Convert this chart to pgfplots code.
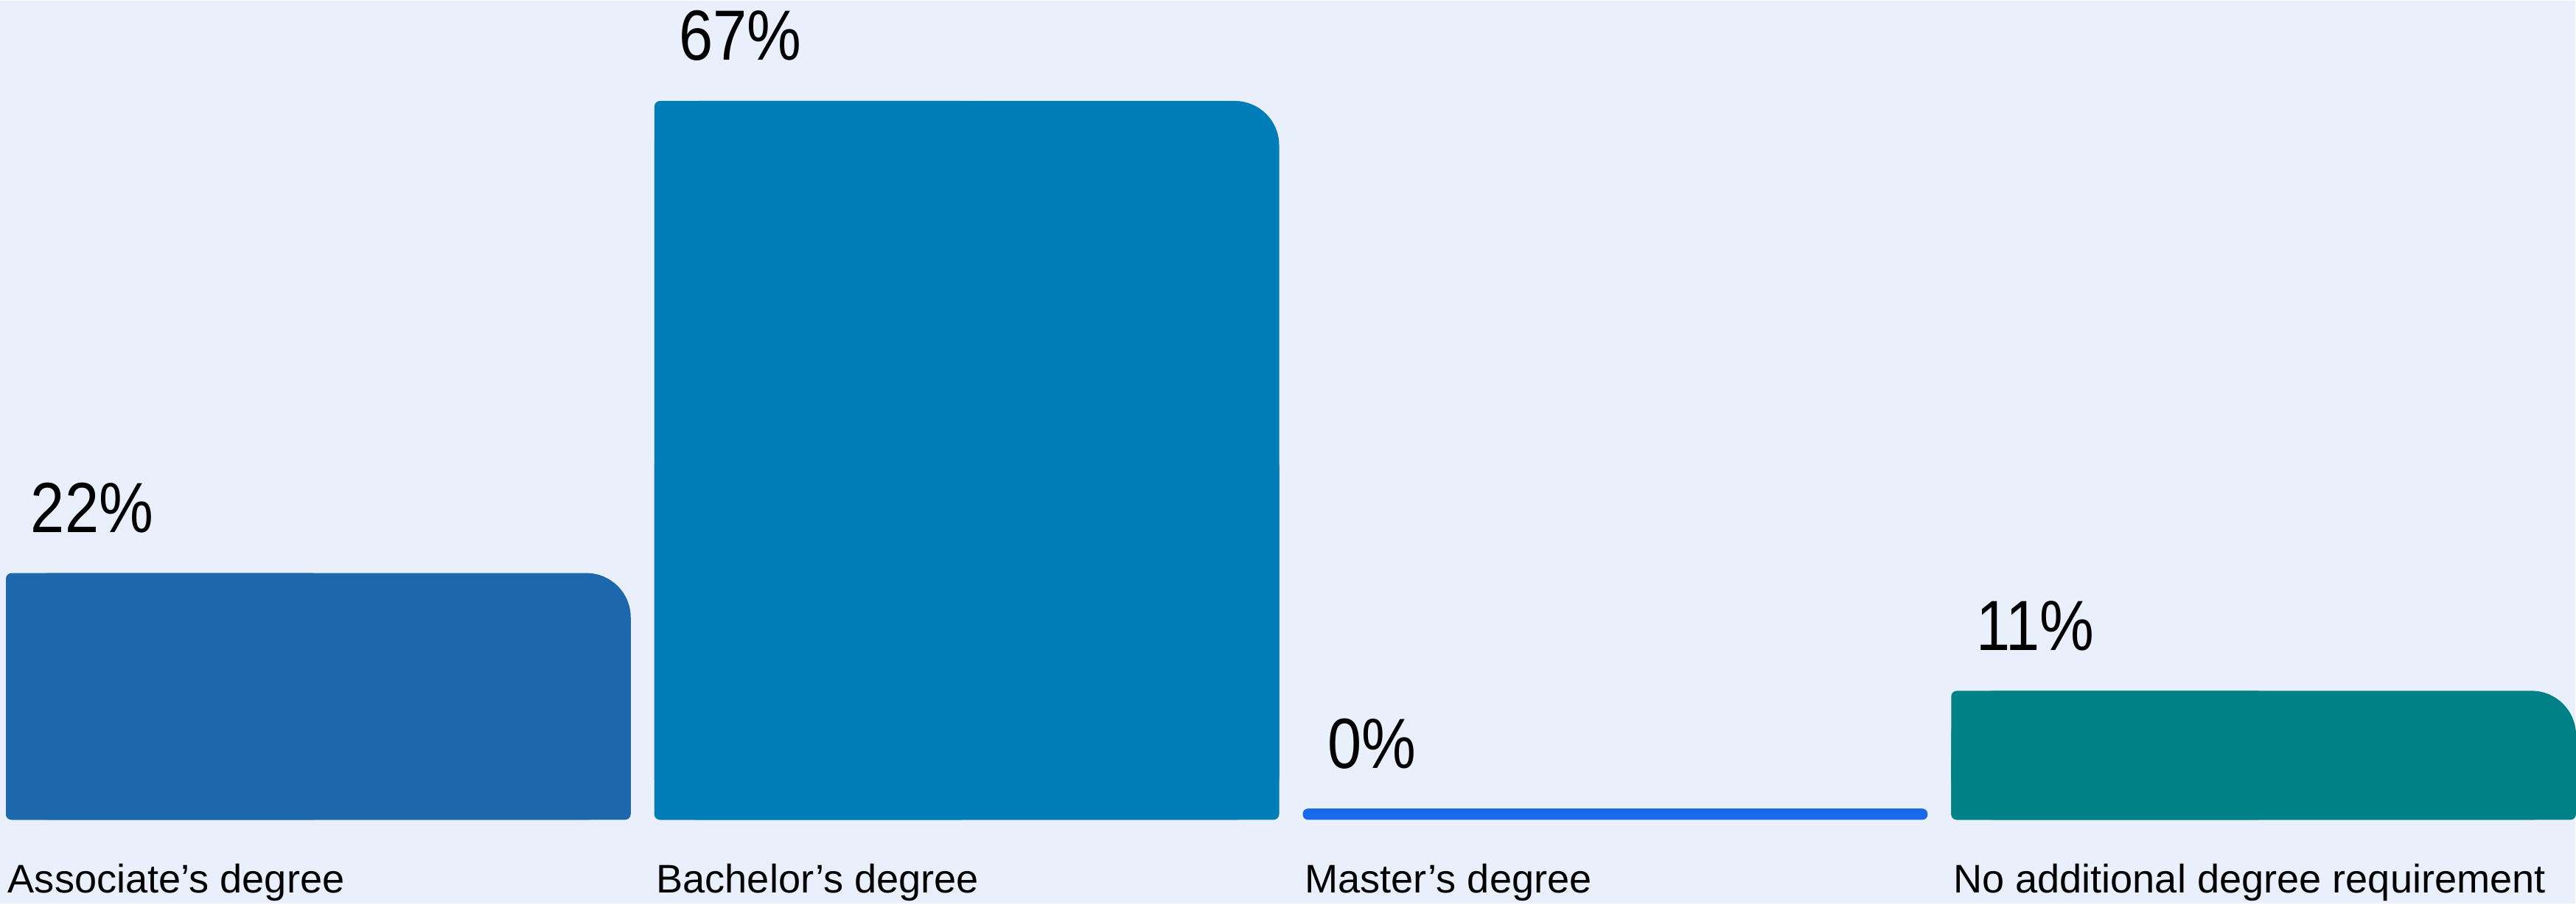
\documentclass[border=0pt]{standalone}
\usepackage{fontspec}
\setmainfont{Liberation Sans}
\newfontfamily\valfont[FakeStretch=0.86]{Liberation Sans}
\usepackage{pgfplots}
\usepackage{pgfplotstable}
\pgfplotsset{compat=1.18}
\definecolor{bg}{HTML}{E9F0FC}
\definecolor{cA}{HTML}{1D68AD}
\definecolor{cB}{HTML}{007CB9}
\definecolor{cC}{HTML}{1B69EB}
\definecolor{cD}{HTML}{008087}
\pgfplotstableread{
x v
0 22.2
1 66.7
2 0
3 11.1
}\data
\pgfplotsset{
  mainbar/.style={ybar, draw=none, bar width=0.9636, bar shift=0, rounded corners=8.6pt,
    point meta=explicit,
    nodes near coords={\pgfmathprintnumber[fixed,precision=0,assume math mode=true]{\pgfplotspointmeta}\%},
    nodes near coords align={anchor=base west},
    every node near coord/.append style={inner sep=0pt, xshift=-56pt, yshift=7.87pt,
      font=\valfont\fontsize{13.8}{15}\selectfont, text=black}},
  leftcover/.style={ybar, draw=none, bar width=0.4818, bar shift=-0.2409, rounded corners=1.1pt},
  bottomcover/.style={ybar, draw=none, bar width=0.9636, bar shift=0, rounded corners=1.1pt},
}
\begin{document}
\begin{tikzpicture}
\begin{axis}[
  width=500pt, height=175.39pt, scale only axis,
  xmin=-0.4909, xmax=3.4807, ymin=-7.917, ymax=77.22,
  axis background/.style={fill=bg},
  axis line style={draw=none},
  ytick=\empty,
  xtick={-0.4818,0.5182,1.5182,2.5182},
  xticklabels={Associate’s degree, Bachelor’s degree, Master’s degree, No additional degree requirement},
  major tick length=0pt,
  xticklabel style={anchor=base west, inner sep=0pt, yshift=2.15pt, xshift=0.2pt,
    font=\fontsize{7.75}{9}\selectfont, text=black},
  clip=false,
]
% Associate's degree
\addplot[mainbar, fill=cA] table[x=x, y expr=\thisrow{v}+1.05, meta=v,
  skip coords between index={1}{4}] {\data};
\addplot[leftcover, fill=cA] table[x=x, y expr=\thisrow{v}+1.05,
  skip coords between index={1}{4}] {\data};
\addplot[bottomcover, fill=cA] table[x=x, y expr=(\thisrow{v}+1.05)/2,
  skip coords between index={1}{4}] {\data};
% Bachelor's degree
\addplot[mainbar, fill=cB] table[x=x, y expr=\thisrow{v}+1.05, meta=v,
  skip coords between index={0}{1}, skip coords between index={2}{4}] {\data};
\addplot[leftcover, fill=cB] table[x=x, y expr=\thisrow{v}+1.05,
  skip coords between index={0}{1}, skip coords between index={2}{4}] {\data};
\addplot[bottomcover, fill=cB] table[x=x, y expr=(\thisrow{v}+1.05)/2,
  skip coords between index={0}{1}, skip coords between index={2}{4}] {\data};
% Master's degree
\addplot[mainbar, rounded corners=1.0pt, fill=cC] table[x=x, y expr=\thisrow{v}+1.05, meta=v,
  skip coords between index={0}{2}, skip coords between index={3}{4}] {\data};
% No additional degree requirement
\addplot[mainbar, fill=cD] table[x=x, y expr=\thisrow{v}+1.05, meta=v,
  skip coords between index={0}{3}] {\data};
\addplot[leftcover, fill=cD] table[x=x, y expr=\thisrow{v}+1.05,
  skip coords between index={0}{3}] {\data};
\addplot[bottomcover, fill=cD] table[x=x, y expr=(\thisrow{v}+1.05)/2,
  skip coords between index={0}{3}] {\data};
\end{axis}
\end{tikzpicture}
\end{document}
